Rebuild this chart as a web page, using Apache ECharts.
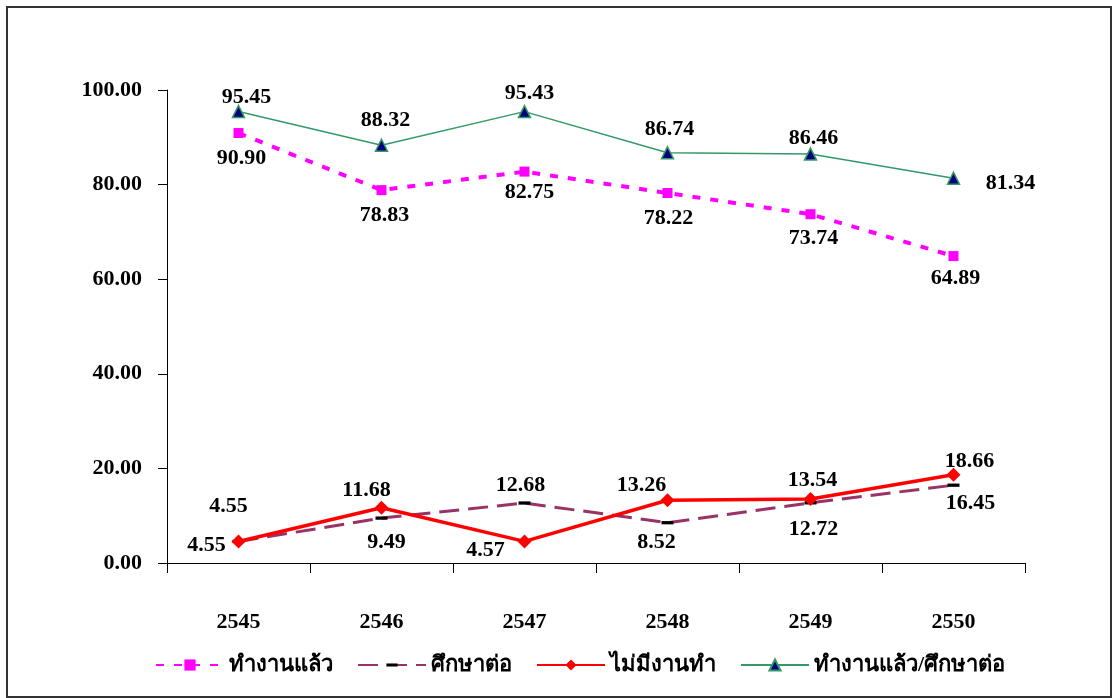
<!DOCTYPE html>
<html><head><meta charset="utf-8">
<script src="https://cdn.jsdelivr.net/npm/echarts@6/dist/echarts.min.js"></script>
<style>html,body{margin:0;padding:0;background:#fff}#c{width:1113px;height:698px}</style>
</head><body><div id="c"></div>
<script>
const categories = ['2545', '2546', '2547', '2548', '2549', '2550'];
const names = ['ทำงานแล้ว', 'ศึกษาต่อ', 'ไม่มีงานทำ', 'ทำงานแล้ว/ศึกษาต่อ'];
const worked = [90.90, 78.83, 82.75, 78.22, 73.74, 64.89];
const studying = [4.55, 9.49, 12.68, 8.52, 12.72, 16.45];
const unemployed = [4.55, 11.68, 4.57, 13.26, 13.54, 18.66];
const workStudy = [95.45, 88.32, 95.43, 86.74, 86.46, 81.34];
const yMin = 0, yMax = 100, yStep = 20;

// label offsets (px from the point), styling only
const offWorked = [[3, 25], [3, 25], [5, 21], [1, 25], [3, 24], [2, 22]];
const offStudying = [[-10, -35], [5, 24], [-4, -18], [-11, 20], [3, 26], [17, 18]];
const offUnemployed = [[-32, 4], [-15, -17], [-39, 9], [-26, -15], [2, -19], [16, -13]];
const offWorkStudy = [[8, -14], [4, -25], [5, -18], [2, -23], [3, -16], [57, 5]];

// horizontal bar marker inside a square bounding box
const BAR_SYMBOL = 'path://M0,0M11,11M0,4L11,4L11,7L0,7Z';

const FONT = '"Liberation Serif", "Times New Roman", serif';
function items(vals, offs) {
  return vals.map((v, i) => ({ value: v, label: { offset: offs[i] } }));
}
const labelBase = {
  show: true, position: 'inside', align: 'center', verticalAlign: 'middle',
  fontFamily: FONT, fontWeight: 'bold', fontSize: 22, color: '#000',
  formatter: p => p.value.toFixed(2)
};

const chart = echarts.init(document.getElementById('c'), null, { renderer: 'canvas' });
chart.setOption({
  animation: false,
  backgroundColor: '#fff',
  graphic: [{
    type: 'rect', shape: { x: 7, y: 7, width: 1104, height: 690 },
    style: { fill: 'none', stroke: '#333', lineWidth: 2 }, z: 100, silent: true
  }],
  grid: { left: 167, right: 88, top: 90, bottom: 135, containLabel: false },
  legend: {
    left: 150, top: 649, itemWidth: 68, itemHeight: 14, itemGap: 24,
    textStyle: { fontFamily: FONT, fontWeight: 'bold', fontSize: 22, color: '#000' },
    data: names
  },
  xAxis: {
    type: 'category', data: categories, boundaryGap: true,
    axisLine: { lineStyle: { color: '#000', width: 1 } },
    axisTick: { show: true, length: 10, alignWithLabel: false, lineStyle: { color: '#000' } },
    axisLabel: { margin: 48, fontFamily: FONT, fontWeight: 'bold', fontSize: 22, color: '#000' },
    splitLine: { show: false }
  },
  yAxis: {
    type: 'value', min: yMin, max: yMax, interval: yStep,
    axisLine: { show: true, lineStyle: { color: '#000', width: 1 } },
    axisTick: { show: true, length: 9, lineStyle: { color: '#000' } },
    axisLabel: { margin: 25, fontFamily: FONT, fontWeight: 'bold', fontSize: 22, color: '#000',
      formatter: v => v.toFixed(2) },
    splitLine: { show: false }
  },
  series: [
    {
      name: names[0], type: 'line', data: items(worked, offWorked),
      symbol: 'rect', symbolSize: 10,
      lineStyle: { color: '#FF00FF', width: 4, type: [8, 10] },
      itemStyle: { color: '#FF00FF' }, label: labelBase, z: 3
    },
    {
      name: names[1], type: 'line', data: items(studying, offStudying),
      symbol: BAR_SYMBOL, symbolSize: 12,
      lineStyle: { color: '#993366', width: 3, type: [20, 9] },
      itemStyle: { color: '#000' }, label: labelBase, z: 2
    },
    {
      name: names[2], type: 'line', data: items(unemployed, offUnemployed),
      symbol: 'diamond', symbolSize: 14,
      lineStyle: { color: '#FF0000', width: 3.5 },
      itemStyle: { color: '#FF0000' }, label: labelBase, z: 4
    },
    {
      name: names[3], type: 'line', data: items(workStudy, offWorkStudy),
      symbol: 'triangle', symbolSize: 12,
      lineStyle: { color: '#339966', width: 1.5 },
      itemStyle: { color: '#000080', borderColor: '#339966', borderWidth: 1.5 },
      label: labelBase, z: 5
    }
  ]
});
</script></body></html>
